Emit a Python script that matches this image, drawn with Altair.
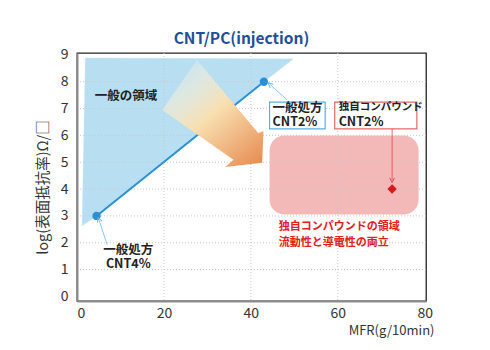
import altair as alt
import pandas as pd

FONT = "Noto Sans CJK JP"

# ---- data -------------------------------------------------------------
# general formulation line (MFR, log surface resistivity)
gen_mfr = [4.5, 43.0]
gen_res = [3.0, 8.0]
gen_label = ["CNT4%", "CNT2%"]

# own compound point
own_mfr = [72.5]
own_res = [4.0]

# general region polygon
region_mfr = [1.95, 49.7, 43.0, 4.5, 1.2]
region_res = [8.88, 8.85, 8.0, 3.0, 2.64]

# big gradient arrow polygon
arrow_mfr = [19.6, 27.6, 41.7, 42.9, 42.6, 34.1, 36.0]
arrow_res = [6.95, 8.81, 6.09, 6.15, 4.98, 4.82, 5.09]

# own compound region (rounded rectangle)
own_zone_mfr = [44.3, 78.6]
own_zone_res = [3.05, 6.0]

x_ticks = [0, 20, 40, 60, 80]
y_ticks = [0, 1, 2, 3, 4, 5, 6, 7, 8, 9]
x_grid = [20, 40, 60]
y_grid = [1, 2, 3, 4, 5, 6, 7, 8]

# annotation texts (multi-line blocks use "\n")
region_text = ["一般の領域"]
gen4_text = ["一般処方\nCNT4%"]
gen2_text = ["一般処方\nCNT2%"]
own_head = ["独自コンパウンド"]
own_sub = ["CNT2%"]
own_zone_text = ["独自コンパウンドの領域\n流動性と導電性の両立"]

# annotation anchors (data units, first line)
region_text_pos = [(11.3, 7.45)]
gen4_text_pos = [(11.8, 1.72)]
gen2_text_pos = [(45.0, 7.03)]
own_head_pos = [(60.2, 7.04)]
own_sub_pos = [(60.2, 6.49)]
own_zone_text_pos = [(46.4, 2.58)]
box_gen = [44.3, 57.1, 6.24, 7.24]
box_own = [59.3, 78.2, 6.24, 7.24]
pointer_gen2 = [48.3, 7.33, 44.4, 7.90, 312]
pointer_gen4 = [6.94, 1.93, 5.05, 2.86, 342]
pointer_own = [72.5, 6.24, 72.5, 4.33, 180]

# ---- scales ----------------------------------------------------------
xs = alt.Scale(domain=[0, 80.3], nice=False, zero=False)
ys = alt.Scale(domain=[-0.17, 9.07], nice=False, zero=False)

x_axis = alt.Axis(
    values=x_ticks, grid=False, ticks=False, labelFontSize=14, labelColor="#333",
    labelFont=FONT, labelPadding=5, domainColor="#8c8c8c", domainWidth=2,
    title="MFR(g/10min)", titleFont=FONT, titleFontSize=13, titleFontWeight="normal",
    titleColor="#333", titleAnchor="end", titleAlign="right", titleX=357,
    titleY=29, titleBaseline="middle", zindex=1,
)
y_axis = alt.Axis(
    values=y_ticks, grid=False, ticks=False, labelFontSize=14, labelColor="#333",
    labelFont=FONT, labelPadding=9, domainColor="#8c8c8c", domainWidth=2,
    title="log(表面抵抗率)Ω/□", titleFont=FONT, titleFontSize=14.5,
    titleFontWeight="normal", titleColor="#333", titleX=-34, titleY=134,
    titleBaseline="middle", titleAngle=-90, zindex=1,
)


def X(f):
    return alt.X(f, type="quantitative", scale=xs, axis=x_axis)


def Y(f):
    return alt.Y(f, type="quantitative", scale=ys, axis=y_axis)


# ---- layers -----------------------------------------------------------
region_df = pd.DataFrame({"x": region_mfr, "y": region_res, "i": range(len(region_mfr))})
region = alt.Chart(region_df).mark_line(
    interpolate="linear-closed", fill="#b8def2", stroke="#b8def2", strokeWidth=0.5
).encode(x=X("x"), y=Y("y"), order=alt.Order("i:Q"))

zone_df = pd.DataFrame({"x": [own_zone_mfr[0]], "x2": [own_zone_mfr[1]],
                        "y": [own_zone_res[0]], "y2": [own_zone_res[1]]})
zone = alt.Chart(zone_df).mark_rect(color="#f3b9b9", cornerRadius=15).encode(
    x=X("x"), x2="x2", y=Y("y"), y2="y2")

gx = alt.Chart(pd.DataFrame({"x": x_grid})).mark_rule(
    color="#c8c8c8", strokeDash=[1, 2], strokeWidth=1).encode(x=X("x"))
gy = alt.Chart(pd.DataFrame({"y": y_grid})).mark_rule(
    color="#c8c8c8", strokeDash=[1, 2], strokeWidth=1).encode(y=Y("y"))

gen_df = pd.DataFrame({"x": gen_mfr, "y": gen_res, "lab": gen_label})
gen_line = alt.Chart(gen_df).mark_line(color="#2a90d5", strokeWidth=2).encode(
    x=X("x"), y=Y("y"))
gen_pts = alt.Chart(gen_df).mark_point(
    filled=True, color="#2a90d5", size=70, opacity=1).encode(x=X("x"), y=Y("y"))

arrow_df = pd.DataFrame({"x": arrow_mfr, "y": arrow_res, "i": range(len(arrow_mfr))})
grad = alt.Gradient(
    gradient="linear",
    stops=[
        alt.GradientStop(offset=0.0, color="rgba(240,246,248,0.15)"),
        alt.GradientStop(offset=0.25, color="rgba(246,238,214,0.6)"),
        alt.GradientStop(offset=0.5, color="#f8dfb0"),
        alt.GradientStop(offset=1.0, color="#e88f55"),
    ],
    x1=0.1, y1=0.0, x2=0.9, y2=1.0,
)
arrow = alt.Chart(arrow_df).mark_line(
    interpolate="linear-closed", fill=grad, strokeWidth=0, strokeOpacity=0
).encode(x=X("x"), y=Y("y"), order=alt.Order("i:Q"))

own_df = pd.DataFrame({"x": own_mfr, "y": own_res})
own_pt = alt.Chart(own_df).mark_point(
    shape="diamond", filled=True, color="#d9191c", size=90, opacity=1
).encode(x=X("x"), y=Y("y"))

boxes_df = pd.DataFrame({
    "x": [box_gen[0], box_own[0]], "x2": [box_gen[1], box_own[1]],
    "y": [box_gen[2], box_own[2]], "y2": [box_gen[3], box_own[3]],
    "c": ["#5aaee2", "#e26a6a"],
})
boxes = alt.Chart(boxes_df).mark_rect(fill="white", strokeWidth=1.2).encode(
    x=X("x"), x2="x2", y=Y("y"), y2="y2", stroke=alt.Stroke("c:N", scale=None))

ptr_df = pd.DataFrame({
    "x": [pointer_gen2[0], pointer_gen4[0], pointer_own[0]],
    "y": [pointer_gen2[1], pointer_gen4[1], pointer_own[1]],
    "x2": [pointer_gen2[2], pointer_gen4[2], pointer_own[2]],
    "y2": [pointer_gen2[3], pointer_gen4[3], pointer_own[3]],
    "a": [pointer_gen2[4], pointer_gen4[4], pointer_own[4]],
    "c": ["#6bb8e6", "#6bb8e6", "#e04848"],
})
ptr_lines = alt.Chart(ptr_df).mark_rule(strokeWidth=0.8).encode(
    x=X("x"), y=Y("y"), x2="x2", y2="y2", color=alt.Color("c:N", scale=None))
ptr_heads = alt.Chart(ptr_df).mark_point(
    shape="M-1,1L0,-1L1,1", filled=False, size=22, strokeWidth=1, opacity=1
).encode(x=X("x2"), y=Y("y2"), angle=alt.Angle("a:Q", scale=None),
         color=alt.Color("c:N", scale=None))


def text_layer(texts, pos, size, color, align="left", weight="normal", lh=None):
    df = pd.DataFrame({"t": texts, "x": [p[0] for p in pos], "y": [p[1] for p in pos]})
    kw = dict(font=FONT, fontSize=size, color=color, align=align, baseline="middle",
              fontWeight=weight)
    if lh is not None:
        kw.update(lineBreak="\n", lineHeight=lh)
    return alt.Chart(df).mark_text(**kw).encode(x=X("x"), y=Y("y"), text="t:N")


t_region = text_layer(region_text, region_text_pos, 12.5, "#222", "center", "bold")
t_gen4 = text_layer(gen4_text, gen4_text_pos, 12.5, "#222", "center", "bold", 14)
t_gen2 = text_layer(gen2_text, gen2_text_pos, 12.5, "#222", "left", "bold", 14)
t_own_head = text_layer(own_head, own_head_pos, 10.5, "#222", "left", "bold")
t_own_sub = text_layer(own_sub, own_sub_pos, 12.5, "#222", "left", "bold")
t_zone = text_layer(own_zone_text, own_zone_text_pos, 11, "#e0201c", "left", "bold", 16.3)

chart = alt.layer(
    region, zone, gx, gy, gen_line, arrow, gen_pts, own_pt, boxes,
    ptr_lines, ptr_heads, t_region, t_gen4, t_gen2, t_own_head, t_own_sub, t_zone,
).properties(
    width=349, height=248,
    padding={"left": 77, "top": 53, "right": 64, "bottom": 49},
    autosize=alt.AutoSizeParams(type="none"),
    title=alt.TitleParams(
        "CNT/PC(injection)", font=FONT, fontSize=15.5, fontWeight="bold",
        color="#1f4f9a", anchor="middle", dx=-10, offset=0,
    ),
).configure(background="white").configure_view(stroke="#222", strokeWidth=1.3)

chart.save("out.html", embed_options={"renderer": "svg", "actions": False})
